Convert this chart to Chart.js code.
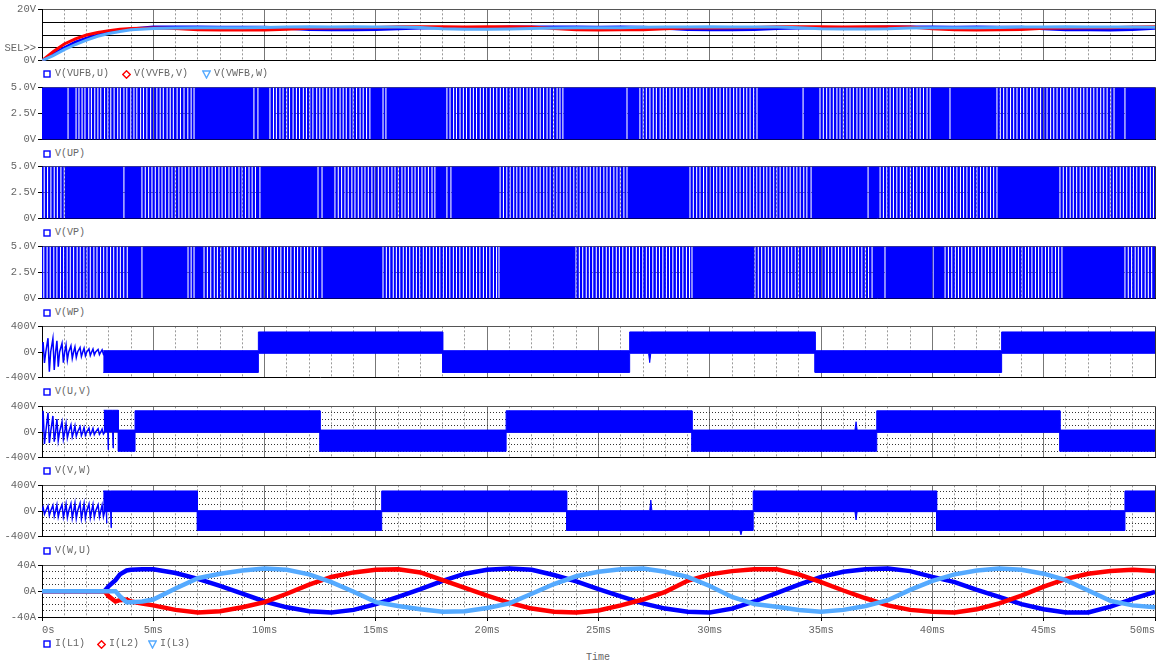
<!DOCTYPE html>
<html>
<head>
<meta charset="utf-8">
<script src="https://cdn.jsdelivr.net/npm/chart.js@4.4.1/dist/chart.umd.min.js"></script>
<style>
  html, body { margin: 0; padding: 0; background: #fff; }
  #wrap { position: relative; width: 1163px; height: 663px; overflow: hidden;
          font-family: "Liberation Mono", "DejaVu Sans Mono", monospace; font-size: 10px; color: #666; }
  canvas { position: absolute; left: 0; }
  .leg { position: absolute; height: 12px; line-height: 12px; white-space: nowrap; }
  .leg svg { position: absolute; top: 2px; }
  .leg span { position: absolute; top: 0; font-family: "Liberation Mono", monospace; font-size: 10px; }
  #time { position: absolute; left: 586px; top: 652px; font-size: 10px; }
</style>
</head>
<body>
<div id="wrap"><div id="time">Time</div></div>
<script>
// --- feedback voltages (ms, V)
const fbT = [0, 0.5, 1, 1.5, 2, 2.5, 3, 3.5, 4, 5, 6, 7, 8, 9, 10, 11, 12, 13, 14, 15, 16, 17, 18, 19, 20,
  21, 22, 23, 24, 25, 26, 27, 28, 29, 30, 31, 32, 33, 34, 35, 36, 37, 38, 39, 40, 41, 42, 43, 44, 45, 46, 47, 48, 49, 50];
const vufb = [0, 2.5, 5, 7.2, 8.8, 10, 11, 11.8, 12.3, 13.1, 13.1, 13.1, 13.0, 13.0, 13.0, 12.6, 12.1, 12.0, 12.0, 12.1,
  12.4, 12.7, 12.8, 12.8, 12.8, 13.1, 13.1, 13.1, 13.1, 13.0, 13.1, 13.0, 12.6, 12.1, 12.0, 12.0, 12.1, 12.5, 12.7, 12.8,
  12.8, 12.9, 13.1, 13.1, 13.1, 13.0, 13.1, 13.0, 13.0, 12.4, 12.0, 12.0, 11.9, 12.1, 12.6];
const vvfb = [0, 3.5, 6.5, 8.5, 10, 11, 11.7, 12.2, 12.5, 12.7, 12.5, 12.0, 11.9, 12.0, 11.9, 12.2, 12.6, 12.7, 12.8, 12.9,
  13.2, 13.2, 13.2, 13.1, 13.2, 13.2, 13.1, 12.5, 12.0, 11.9, 12.0, 12.0, 12.4, 12.7, 12.7, 12.8, 12.9, 13.2, 13.2, 13.2,
  13.1, 13.2, 13.2, 13.1, 12.4, 12.0, 11.9, 12.0, 12.1, 12.6, 12.7, 12.8, 12.8, 13.1, 13.2];
const vwfb = [0, 2, 4.3, 6.3, 8, 9.5, 10.6, 11.4, 12.0, 12.5, 12.7, 12.8, 12.8, 12.8, 12.9, 13.1, 13.2, 13.1, 13.2, 13.1,
  13.1, 12.9, 12.4, 12.2, 12.2, 12.3, 12.5, 12.7, 12.8, 12.8, 12.8, 13.0, 13.1, 13.1, 13.2, 13.1, 13.1, 13.1, 12.8, 12.4,
  12.3, 12.3, 12.4, 12.7, 12.8, 12.8, 12.8, 12.9, 13.1, 13.1, 13.2, 13.1, 13.1, 13.1, 13.0];

// --- gate signals: times (ms) where the 5 V pulse train drops out
const pwmHigh = 5, pwmLow = 0;
const upGaps = [1.17,
  1.53, 1.66, 1.80, 1.93, 2.10, 2.22, 2.37, 2.51, 2.64, 2.81, 2.96, 3.09, 3.24, 3.40, 3.52, 3.68, 3.81, 3.99, 4.13, 4.26,
  4.43, 4.56, 4.71, 4.88, 5.01, 5.16, 5.31, 5.45, 5.62, 5.76, 5.90, 6.07, 6.22, 6.38, 6.55, 6.70, 6.83,
  9.52, 9.70,
  10.24, 10.40, 10.53, 10.69, 10.83, 10.99, 11.12, 11.28, 11.43, 11.57, 11.74, 11.88, 12.03, 12.17, 12.34, 12.48, 12.62,
  12.79, 12.93, 13.08, 13.22, 13.39, 13.53, 13.67, 13.84, 13.98, 14.13, 14.29, 14.43, 14.58, 14.73,
  15.32, 15.45,
  18.19, 18.33, 18.49, 18.62, 18.78, 18.93, 19.07, 19.24, 19.38, 19.52, 19.69, 19.83, 19.98, 20.14, 20.28, 20.43, 20.59,
  20.73, 20.88, 21.03, 21.18, 21.34, 21.48, 21.63, 21.79, 21.93, 22.08, 22.24, 22.38, 22.53, 22.69, 22.83, 22.98, 23.14,
  23.27, 23.40,
  26.28,
  26.86, 27.01, 27.15, 27.31, 27.46, 27.60, 27.77, 27.91, 28.05, 28.21, 28.36, 28.51, 28.66, 28.81, 28.96, 29.11, 29.26,
  29.41, 29.56, 29.71, 29.86, 30.01, 30.16, 30.31, 30.46, 30.62, 30.76, 30.91, 31.07, 31.21, 31.36, 31.52, 31.66, 31.81,
  31.97, 32.12,
  34.19,
  34.95, 35.10, 35.25, 35.40, 35.55, 35.71, 35.85, 36.00, 36.16, 36.30, 36.45, 36.61, 36.75, 36.90, 37.06, 37.20, 37.35,
  37.51, 37.65, 37.80, 37.96, 38.10, 38.25, 38.41, 38.55, 38.70, 38.86, 39.00, 39.15, 39.31, 39.45, 39.60, 39.76, 39.90,
  40.79,
  42.90, 43.05, 43.20, 43.35, 43.51, 43.65, 43.80, 43.96, 44.10, 44.25, 44.41, 44.55, 44.70, 44.86, 45.00, 45.15, 45.31,
  45.45, 45.60, 45.76, 45.90, 46.05, 46.21, 46.35, 46.50, 46.66, 46.80, 46.95, 47.11, 47.25, 47.40, 47.56, 47.70, 47.85,
  48.01, 48.16,
  48.65];
const vpGaps = [0.10, 0.25, 0.40, 0.55, 0.69, 0.85, 1.00,
  3.68,
  4.49, 4.64, 4.79, 4.94, 5.09, 5.25, 5.39, 5.54, 5.70, 5.84, 5.99, 6.15, 6.29, 6.44, 6.60, 6.74, 6.89, 7.05, 7.19, 7.34,
  7.50, 7.64, 7.79, 7.95, 8.09, 8.24, 8.40, 8.54, 8.69, 8.85, 8.99, 9.14, 9.30, 9.44, 9.59, 9.79,
  12.40, 12.58,
  13.16, 13.31, 13.46, 13.61, 13.76, 13.92, 14.06, 14.21, 14.37, 14.51, 14.66, 14.82, 14.96, 15.11, 15.27, 15.41, 15.56,
  15.72, 15.86, 16.01, 16.17, 16.31, 16.46, 16.62, 16.76, 16.91, 17.07, 17.21, 17.36, 17.52, 17.65,
  18.19, 18.37,
  20.58, 20.73, 20.88, 21.03, 21.19, 21.33, 21.48, 21.64, 21.78, 21.93, 22.09, 22.23, 22.38, 22.54, 22.68, 22.83, 22.99,
  23.13, 23.28, 23.44, 23.58, 23.73, 23.89, 24.03, 24.18, 24.34, 24.48, 24.63, 24.79, 24.93, 25.08, 25.24, 25.38, 25.53,
  25.69, 25.83, 25.98, 26.14, 26.28,
  29.11, 29.26, 29.41, 29.56, 29.72, 29.86, 30.01, 30.17, 30.31, 30.46, 30.62, 30.76, 30.91, 31.07, 31.21, 31.36, 31.52,
  31.66, 31.81, 31.97, 32.11, 32.26, 32.42, 32.56, 32.71, 32.87, 33.01, 33.16, 33.32, 33.46, 33.61, 33.77, 33.91, 34.06,
  34.22, 34.36, 34.55,
  37.11,
  37.65, 37.80, 37.95, 38.11, 38.25, 38.40, 38.56, 38.70, 38.85, 39.01, 39.15, 39.30, 39.46, 39.60, 39.75, 39.91, 40.05,
  40.20, 40.36, 40.50, 40.65, 40.81, 40.95, 41.10, 41.26, 41.40, 41.55, 41.71, 41.85, 42.00, 42.16, 42.30, 42.45, 42.61,
  42.75, 42.90,
  45.73, 45.88, 46.03, 46.19, 46.33, 46.48, 46.64, 46.78, 46.93, 47.09, 47.23, 47.38, 47.54, 47.68, 47.83, 47.99, 48.13,
  48.28, 48.44, 48.58, 48.73, 48.89, 49.03, 49.18, 49.34, 49.48, 49.63, 49.79, 49.93];
const wpGaps = [0.08, 0.23, 0.37, 0.53, 0.67, 0.83, 0.97, 1.13, 1.27, 1.42, 1.58, 1.72, 1.88, 2.02, 2.17, 2.33, 2.47, 2.63,
  2.77, 2.92, 3.08, 3.22, 3.38, 3.52, 3.67, 3.83,
  4.49, 6.56, 6.70, 6.83,
  7.28, 7.43, 7.58, 7.74, 7.88, 8.03, 8.19, 8.33, 8.48, 8.64, 8.78, 8.93, 9.09, 9.23, 9.38, 9.54, 9.68, 9.83, 9.99, 10.13,
  10.28, 10.44, 10.58, 10.73, 10.89, 11.03, 11.18, 11.34, 11.48, 11.63, 11.79, 11.93, 12.08, 12.24, 12.38, 12.58,
  15.32, 15.47, 15.62, 15.78, 15.92, 16.07, 16.23, 16.37, 16.52, 16.68, 16.82, 16.97, 17.13, 17.27, 17.42, 17.58, 17.72,
  17.87, 18.03, 18.17, 18.32, 18.48, 18.62, 18.77, 18.93, 19.07, 19.22, 19.38, 19.52, 19.67, 19.83, 19.97, 20.12, 20.28,
  20.42, 20.53,
  23.99, 24.14, 24.29, 24.45, 24.59, 24.74, 24.90, 25.04, 25.19, 25.35, 25.49, 25.64, 25.80, 25.94, 26.09, 26.25, 26.39,
  26.54, 26.70, 26.84, 26.99, 27.15, 27.29, 27.44, 27.60, 27.74, 27.89, 28.05, 28.19, 28.34, 28.50, 28.64, 28.79, 28.95,
  29.09, 29.20,
  32.03, 32.18, 32.33, 32.49, 32.63, 32.78, 32.94, 33.08, 33.23, 33.39, 33.53, 33.68, 33.84, 33.98, 34.13, 34.29, 34.43,
  34.58, 34.74, 34.88, 35.03, 35.19, 35.33, 35.48, 35.64, 35.78, 35.93, 36.09, 36.23, 36.38, 36.54, 36.68, 36.83, 36.99,
  37.13, 37.29,
  37.87, 40.03,
  40.57, 40.72, 40.87, 41.03, 41.17, 41.32, 41.48, 41.62, 41.77, 41.93, 42.07, 42.22, 42.38, 42.52, 42.67, 42.83, 42.97,
  43.12, 43.28, 43.42, 43.57, 43.73, 43.87, 44.02, 44.18, 44.32, 44.47, 44.63, 44.77, 44.92, 45.08, 45.22, 45.37, 45.53,
  45.67, 45.82,
  48.65, 48.80, 48.95, 49.11, 49.25, 49.40, 49.56, 49.70, 49.85];

// --- line-to-line voltages: start-up ringing bursts (ms) and peak values (V)
const ringT = [0.05, 0.27, 0.49, 0.67, 0.9, 1.08, 1.3, 1.48, 1.71, 1.89, 2.11, 2.29, 2.52, 2.7];
const uvRingHi = [155, 215, 210, 175, 135, 110, 95, 80, 70, 60, 50, 45, 40, 35];
const uvRingLo = [-170, -305, -280, -230, -165, -125, -100, -85, -70, -60, -55, -45, -40, -35];
const vwRingHi = [330, 300, 250, 200, 160, 130, 110, 95, 80, 70, 60, 55, 50, 45];
const vwRingLo = [-185, -170, -150, -130, -110, -90, -75, -65, -55, -50, -45, -40, -35, -30];
const wuRingHi = [60, 80, 90, 95, 100, 110, 115, 120, 120, 115, 110, 100, 95, 90];
const wuRingLo = [-50, -70, -80, -90, -95, -100, -110, -115, -120, -110, -105, -95, -90, -85];

// switching envelope (upper / lower edge of the PWM band)
const uvT  = [2.75, 9.72, 9.72, 18.0, 18.0, 26.4, 26.4, 27.25, 27.3, 27.35, 34.73, 34.73, 43.11, 43.11, 50];
const uvHi = [20, 20, 312, 312, 20, 20, 312, 312, 312, 312, 312, 20, 20, 312, 312];
const uvLo = [-318, -318, -20, -20, -318, -318, -20, -20, -165, -20, -20, -318, -318, -20, -20];

const vwT  = [2.77, 2.95, 2.97, 2.99, 3.17, 3.19, 3.21, 3.43, 3.43, 4.18, 4.18, 12.49, 12.49, 20.85, 20.85,
  29.2, 29.2, 36.52, 36.57, 36.62, 37.5, 37.5, 45.73, 45.73, 50];
const vwHi = [338, 338, 338, 338, 338, 338, 338, 338, 30, 30, 330, 330, 30, 30, 330, 330, 30, 30, 160, 30, 30, 330, 330, 30, 30];
const vwLo = [0, 0, -277, 0, 0, -250, 0, 0, -300, -300, -5, -5, -300, -300, -5, -5, -300, -300, -300, -300, -300, -5, -5, -300, -300];

const wuT  = [2.75, 2.88, 2.9, 2.92, 3.08, 3.1, 3.12, 6.98, 6.98, 15.26, 15.26, 23.57, 23.57, 27.3, 27.35, 27.4,
  31.35, 31.4, 31.45, 31.95, 31.95, 36.52, 36.57, 36.62, 40.19, 40.19, 48.65, 48.65, 50];
const wuHi = [312, 312, 312, 312, 312, 312, 312, 312, 5, 5, 312, 312, 5, 5, 170, 5, 5, 5, 5, 5, 312, 312, 312, 312, 312, 5, 5, 312, 312];
const wuLo = [-10, -10, -190, -10, -10, -260, -10, -10, -303, -303, -10, -10, -303, -303, -303, -303, -303, -370, -303, -303,
  -10, -10, -140, -10, -10, -303, -303, -10, -10];

// --- phase currents (ms, A)
const curT = [0, 2.8, 3.0, 3.3, 3.5, 3.8, 4.0, 4.5, 5, 6, 7, 8, 9, 10, 11, 12, 13, 14, 15, 16, 17, 18, 19, 20,
  21, 22, 23, 24, 25, 26, 27, 28, 29, 30, 31, 32, 33, 34, 35, 36, 37, 38, 39, 40, 41, 42, 43, 44, 45, 46, 47, 48, 49, 50];
const iL1 = [0, 0, 8, 17, 26, 32, 33, 34, 34, 28, 19, 8, -4, -16, -25, -31, -33, -29, -20, -9, 3, 16, 27, 33, 35, 33, 25,
  15, 3, -8, -19, -27, -32, -33, -27, -16, -3, 10, 22, 30, 34, 35, 31, 22, 14, 2, -9, -20, -28, -33, -33, -24, -12, -1];
const iL2 = [0, 0, -8, -16, -14, -13, -16, -19, -22, -29, -33, -31, -25, -17, -4, 10, 22, 29, 33, 34, 29, 17, 5, -7, -18,
  -27, -32, -33, -30, -22, -13, -1, 16, 26, 31, 34, 34, 26, 14, 1, -11, -22, -29, -32, -33, -28, -19, -7, 7, 19, 27, 31, 33, 31];
const iL3 = [0, 0, 0, 0, -8, -17, -17, -16, -13, 4, 20, 27, 32, 35, 33, 26, 14, -1, -17, -23, -28, -32, -31, -26, -19, -4,
  11, 23, 30, 34, 35, 30, 22, 8, -9, -20, -24, -29, -32, -29, -23, -14, 2, 16, 26, 32, 35, 33, 27, 17, 1, -15, -22, -25];

const BLUE = "#0000ff", RED = "#ff0000", LBLUE = "#55aaff";
const MONO = "'Liberation Mono', 'DejaVu Sans Mono', monospace";
const GAP = 0.024;

const wrap = document.getElementById("wrap");

function pts(T, V) {
  return T.map((t, i) => ({ x: t, y: V[i] }));
}

function pwmPoints(gaps) {
  const p = [{ x: 0, y: pwmHigh }];
  gaps.forEach(g => {
    p.push({ x: g - GAP, y: pwmHigh }, { x: g - GAP, y: pwmLow }, { x: g + GAP, y: pwmLow }, { x: g + GAP, y: pwmHigh });
  });
  p.push({ x: 50, y: pwmHigh });
  return p;
}

function ringPoints(hi, lo) {
  const p = [{ x: 0, y: 0 }];
  ringT.forEach((t, i) => {
    p.push({ x: t, y: hi[i] }, { x: t + 0.06, y: lo[i] }, { x: t + 0.12, y: 0 });
  });
  return p;
}

function xScale(showLabels) {
  return {
    type: "linear", min: 0, max: 50,
    afterFit: s => { s.height = showLabels ? 22 : 0; },
    ticks: {
      stepSize: 1, autoSkip: false, display: showLabels, align: "inner",
      maxRotation: 0, minRotation: 0, padding: 3, color: "#666",
      font: { family: MONO, size: 10.5 },
      callback: v => v % 5 === 0 ? (v === 0 ? "0s" : v + "ms") : ""
    },
    grid: {
      drawTicks: showLabels, tickLength: 4,
      color: c => c.tick.value === 50 ? "#333" : (c.tick.value % 5 === 0 ? "#777" : "#9a9a9a"),
      tickColor: c => c.tick.value % 5 === 0 ? "#000" : "rgba(0,0,0,0)"
    },
    border: { color: "#000", width: 1, dash: c => (c.tick && c.tick.value % 5 !== 0) ? [2, 2] : [] }
  };
}

function yScale(min, max, step, labels, lineColor, lineDash) {
  return {
    min, max,
    afterFit: s => { s.width = 42; },
    ticks: {
      stepSize: step, autoSkip: false, padding: 2, color: "#666",
      font: { family: MONO, size: 10.5 },
      callback: v => labels[v] || ""
    },
    grid: {
      tickLength: 4,
      color: c => lineColor(c.tick.value),
      tickColor: c => labels[c.tick.value] ? "#000" : "rgba(0,0,0,0)"
    },
    border: { color: "#000", width: 1, dash: c => c.tick ? lineDash(c.tick.value) : [] }
  };
}

function makePanel(top, bottom, datasets, y, showX) {
  const c = document.createElement("canvas");
  const h = bottom - top + 8 + (showX ? 22 : 8);
  c.width = 1163; c.height = h;
  c.style.top = (top - 8) + "px";
  wrap.appendChild(c);
  new Chart(c, {
    type: "line",
    data: { datasets },
    options: {
      responsive: false, animation: false, events: [],
      layout: { padding: { top: 8, bottom: showX ? 0 : 8, left: 0, right: 8 } },
      plugins: { legend: { display: false }, tooltip: { enabled: false } },
      elements: { point: { radius: 0 }, line: { tension: 0 } },
      scales: { x: xScale(showX), y }
    }
  });
}

const SYM = {
  sq: col => `<svg width="8" height="8"><rect x="1" y="1" width="6" height="6" fill="none" stroke="${col}" stroke-width="1.4"/></svg>`,
  di: col => `<svg width="9" height="9"><polygon points="4.5,0.8 8.2,4.5 4.5,8.2 0.8,4.5" fill="none" stroke="${col}" stroke-width="1.4"/></svg>`,
  tr: col => `<svg width="9" height="9"><polygon points="0.8,1 8.2,1 4.5,8" fill="none" stroke="${col}" stroke-width="1.4"/></svg>`
};

function legend(y, items) {
  const d = document.createElement("div");
  d.className = "leg";
  d.style.top = (y - 6) + "px";
  d.style.left = "0px";
  d.innerHTML = items.map(it =>
    `<div style="position:absolute;left:${it[0]}px;top:0">${SYM[it[1]](it[2])}</div>` +
    `<span style="left:${it[0] + 12}px">${it[3]}</span>`).join("");
  wrap.appendChild(d);
}

const topLine = "#555";
const flat = () => [];
const fbLabels = { 20: "20V", 5: "SEL>>", 0: "0V" };
const gateLabels = { 5: "5.0V", 2.5: "2.5V", 0: "0V" };
const llLabels = { 400: "400V", 0: "0V", "-400": "-400V" };
const iLabels = { 40: "40A", 0: "0A", "-40": "-40A" };

// panel 1: feedback voltages
makePanel(9, 61, [
  { data: pts(fbT, vwfb), borderColor: LBLUE, borderWidth: 3, order: 0 },
  { data: pts(fbT, vvfb), borderColor: RED, borderWidth: 3, order: 1 },
  { data: pts(fbT, vufb), borderColor: BLUE, borderWidth: 3, order: 2 }
], yScale(0, 20, 5, fbLabels, v => v === 20 ? topLine : "#000", flat), false);
legend(74, [[43, "sq", BLUE, "V(VUFB,U)"], [122, "di", RED, "V(VVFB,V)"], [202, "tr", LBLUE, "V(VWFB,W)"]]);

// panels 2-4: gate signals
const gateY = () => yScale(0, 5, 2.5, gateLabels, v => v === 5 ? topLine : "#888", v => v === 2.5 ? [2, 2] : []);
const gateSet = gaps => [{ data: pwmPoints(gaps), borderColor: "rgba(0,0,0,0)", borderWidth: 0, backgroundColor: BLUE, fill: "origin" }];
makePanel(87, 140, gateSet(upGaps), gateY(), false);
legend(154, [[43, "sq", BLUE, "V(UP)"]]);
makePanel(166, 219, gateSet(vpGaps), gateY(), false);
legend(233, [[43, "sq", BLUE, "V(VP)"]]);
makePanel(246, 299, gateSet(wpGaps), gateY(), false);
legend(313, [[43, "sq", BLUE, "V(WP)"]]);

// panels 5-7: line-to-line voltages
function llSet(rHi, rLo, T, hi, lo) {
  return [
    { data: ringPoints(rHi, rLo), borderColor: BLUE, borderWidth: 1.5 },
    { data: pts(T, hi), borderColor: BLUE, borderWidth: 1, backgroundColor: BLUE, fill: "+1" },
    { data: pts(T, lo), borderColor: BLUE, borderWidth: 1 }
  ];
}
const llDotted = v => (v === 0 || Math.abs(v) === 400) ? [] : [1, 2];
const llColor = v => v === 400 ? topLine : (v === 0 ? "#808080" : "#333");
makePanel(326, 378, llSet(uvRingHi, uvRingLo, uvT, uvHi, uvLo),
  yScale(-400, 400, 400, llLabels, v => v === 400 ? topLine : "rgba(0,0,0,0)", flat), false);
legend(392, [[43, "sq", BLUE, "V(U,V)"]]);
makePanel(406, 458, llSet(vwRingHi, vwRingLo, vwT, vwHi, vwLo),
  yScale(-400, 400, 100, llLabels, llColor, llDotted), false);
legend(471, [[43, "sq", BLUE, "V(V,W)"]]);
makePanel(485, 537, llSet(wuRingHi, wuRingLo, wuT, wuHi, wuLo),
  yScale(-400, 400, 100, llLabels, llColor, llDotted), false);
legend(551, [[43, "sq", BLUE, "V(W,U)"]]);

// panel 8: phase currents
makePanel(565, 617, [
  { data: pts(curT, iL3), borderColor: LBLUE, borderWidth: 4.5, order: 0 },
  { data: pts(curT, iL2), borderColor: RED, borderWidth: 4.5, order: 1 },
  { data: pts(curT, iL1), borderColor: BLUE, borderWidth: 4.5, order: 2 }
], yScale(-40, 40, 10, iLabels, v => v === 40 ? topLine : (v === 0 ? "#808080" : "#333"),
  v => (v === 0 || Math.abs(v) === 40) ? [] : [1, 2]), true);
legend(644, [[43, "sq", BLUE, "I(L1)"], [97, "di", RED, "I(L2)"], [148, "tr", LBLUE, "I(L3)"]]);
</script>
</body>
</html>
